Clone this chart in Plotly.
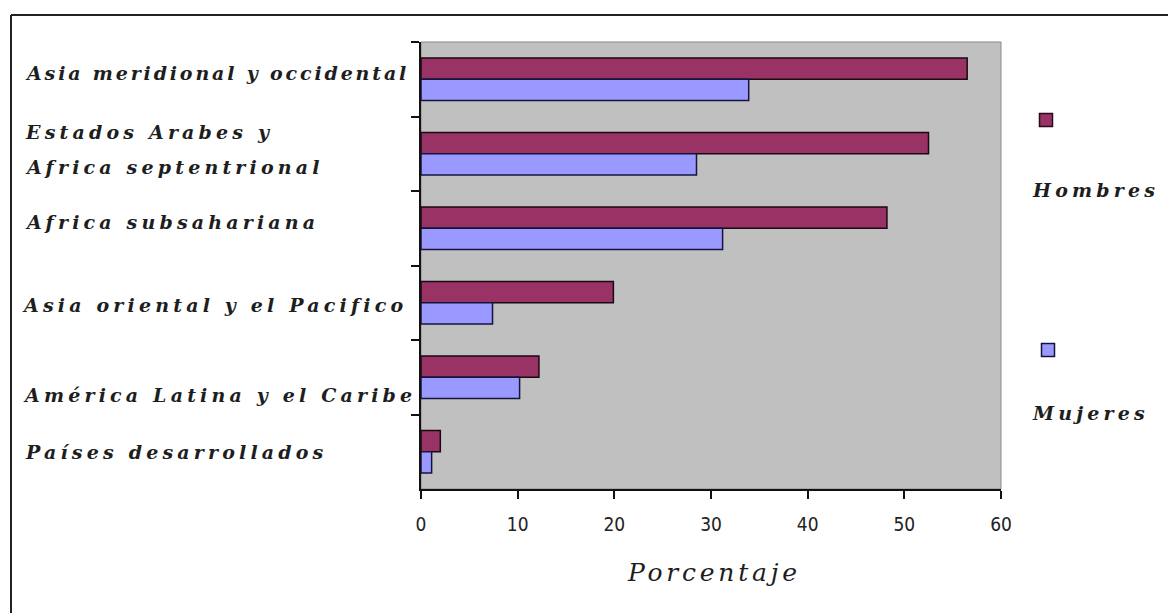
import plotly.graph_objects as go

# Regions, listed top to bottom
regions = [
    "Asia meridional y occidental",
    "Estados Arabes y<br>Africa septentrional",
    "Africa subsahariana",
    "Asia oriental y el Pacifico",
    "América Latina y el Caribe",
    "Países desarrollados",
]
hombres = [56.5, 52.5, 48.2, 19.9, 12.2, 2.0]
mujeres = [33.9, 28.5, 31.2, 7.4, 10.2, 1.1]
series_names = ["Hombres", "Mujeres"]
x_ticks = [0, 10, 20, 30, 40, 50, 60]
x_title = "Porcentaje"

# Page / plot geometry in pixels
W, H = 1168, 613
PLOT_L, PLOT_R, PLOT_T, PLOT_B = 421, 1001, 42, 489

def px_x(px):
    return (px - PLOT_L) / (PLOT_R - PLOT_L)

def px_y(py):
    return (PLOT_B - py) / (PLOT_B - PLOT_T)

COL_H = "#993366"
COL_M = "#9999FF"
SERIF = "DejaVu Serif, Liberation Serif, serif"
label_font = dict(family=SERIF, size=19, color="#1e1e1e", weight="bold", style="italic")

fig = go.Figure()
fig.add_trace(go.Bar(
    y=regions, x=hombres, orientation="h", name=series_names[0],
    marker=dict(color=COL_H, line=dict(color="#1a0a10", width=1.5)),
    showlegend=False,
))
fig.add_trace(go.Bar(
    y=regions, x=mujeres, orientation="h", name=series_names[1],
    marker=dict(color=COL_M, line=dict(color="#14143c", width=1.5)),
    showlegend=False,
))

# Category labels, left aligned in the margin (vertical nudge per label, px)
label_shift = [6, 4, 6, -2, -18, 0]
label_left = [23, 23, 23, 20, 21, 23]
line_gap = 35
annotations = []
for name, shift, left in zip(regions, label_shift, label_left):
    lines = name.split("<br>")
    n = len(lines)
    for k, line in enumerate(lines):
        off = shift + ((n - 1) / 2 - k) * line_gap
        annotations.append(dict(
            text=line, xref="paper", x=px_x(left), xanchor="left", align="left",
            yref="y", y=name, yanchor="middle", yshift=off,
            showarrow=False, font=label_font,
        ))

# Axis title
title_index = len(annotations)
annotations.append(dict(
    text=x_title, xref="paper", x=px_x(625), xanchor="left", align="left",
    yref="paper", y=px_y(572), yanchor="middle", showarrow=False,
    font=dict(family=SERIF, size=25, color="#1e1e1e", style="italic"),
))

# Legend: swatch above each name
legend_items = [
    (series_names[0], COL_H, "#2a0a18", 1046, 120, 1030, 190),
    (series_names[1], COL_M, "#14143c", 1048, 350, 1030, 413),
]
shapes = []
for name, fill, edge, sx, sy, tx, ty in legend_items:
    shapes.append(dict(
        type="rect", xref="paper", yref="paper",
        x0=px_x(sx - 6.5), x1=px_x(sx + 6.5), y0=px_y(sy + 6.5), y1=px_y(sy - 6.5),
        fillcolor=fill, line=dict(color=edge, width=1.5),
    ))
    annotations.append(dict(
        text=name, xref="paper", x=px_x(tx), xanchor="left", align="left",
        yref="paper", y=px_y(ty), yanchor="middle", showarrow=False,
        font=label_font,
    ))

# Light frame on the top and right of the plot area
shapes.append(dict(
    type="rect", xref="paper", yref="paper", x0=0, x1=1, y0=0, y1=1,
    line=dict(color="#8a8a8a", width=1), layer="below",
))
# Outer chart border (top and left edges)
shapes.append(dict(type="line", xref="paper", yref="paper",
                   x0=px_x(11), x1=px_x(W), y0=px_y(15), y1=px_y(15),
                   line=dict(color="#222222", width=2)))
shapes.append(dict(type="line", xref="paper", yref="paper",
                   x0=px_x(11), x1=px_x(11), y0=px_y(15), y1=px_y(H),
                   line=dict(color="#222222", width=2)))

fig.update_layout(
    width=W, height=H,
    margin=dict(l=PLOT_L, r=W - PLOT_R, t=PLOT_T, b=H - PLOT_B),
    paper_bgcolor="white", plot_bgcolor="#C0C0C0",
    barmode="group", bargap=0.43, bargroupgap=0,
    annotations=annotations, shapes=shapes,
    xaxis=dict(
        range=[0, 60], tickvals=x_ticks, ticktext=[str(v) for v in x_ticks],
        showgrid=False, zeroline=False,
        showline=True, linecolor="#111111", linewidth=1.5,
        ticks="outside", ticklen=8, tickwidth=1.5, tickcolor="#111111",
        tickfont=dict(family="DejaVu Sans Condensed, Liberation Sans Narrow, sans-serif",
                      size=19, color="#222222"),
        ticklabelstandoff=9,
    ),
    yaxis=dict(
        autorange="reversed", showgrid=False, zeroline=False,
        showline=True, linecolor="#111111", linewidth=1.5,
        ticks="outside", ticklen=8, tickwidth=1.5, tickcolor="#111111",
        tickson="boundaries", showticklabels=False,
    ),
)

# Wide letter spacing for the serif labels; the longest label and the
# axis title get a slightly tighter spacing
spacing_js = """
var st = document.createElement('style');
st.textContent =
  '.annotation-text { letter-spacing: 0.22em; }' +
  'g.annotation[data-index="0"] .annotation-text { letter-spacing: 0.15em; }' +
  'g.annotation[data-index="%d"] .annotation-text { letter-spacing: 0.15em; }';
document.head.appendChild(st);
""" % title_index

fig.write_html("out.html", post_script=spacing_js)
